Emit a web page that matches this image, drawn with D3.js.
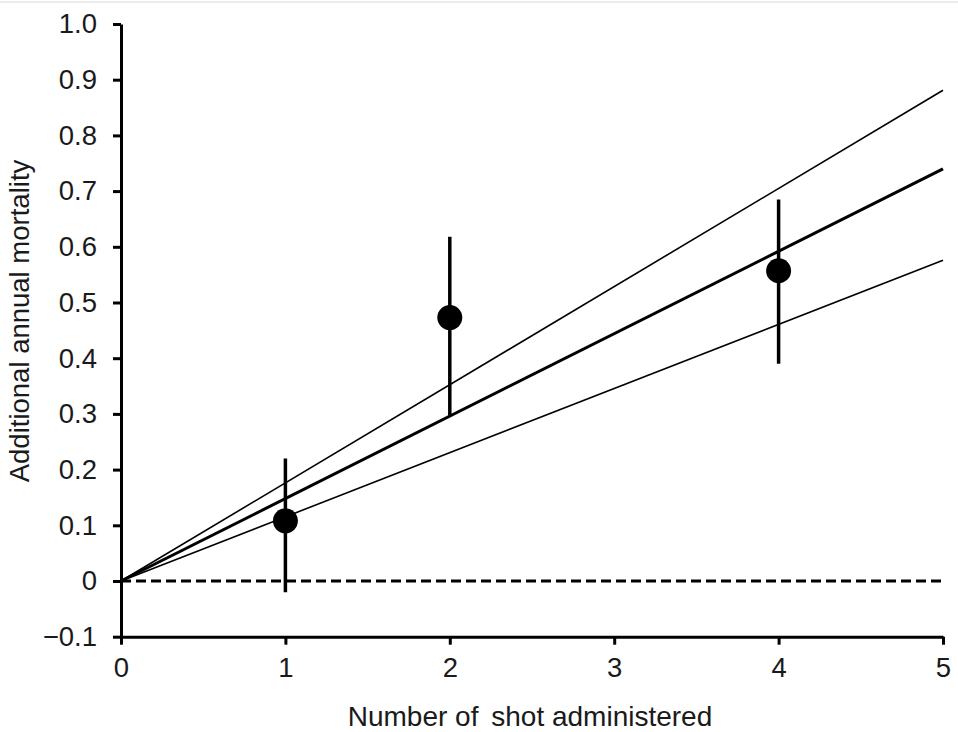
<!DOCTYPE html>
<html><head><meta charset="utf-8">
<script src="https://cdn.jsdelivr.net/npm/d3@7"></script>
<style>body{margin:0;background:#fff}svg{display:block}text{font-family:"Liberation Sans",Arial,sans-serif;fill:#1a1a1a}</style>
</head><body>
<svg id="c" width="958" height="732"></svg>
<script>
const shots = [1, 2, 4];
const mortality = [0.108, 0.473, 0.557];
const errLow = [-0.02, 0.297, 0.39];
const errHigh = [0.22, 0.618, 0.685];
const fitX = [0, 5];
const fitCentral = [0, 0.74];
const fitUpper = [0, 0.881];
const fitLower = [0, 0.576];
const xTicks = [0, 1, 2, 3, 4, 5];
const yTicks = [-0.1, 0, 0.1, 0.2, 0.3, 0.4, 0.5, 0.6, 0.7, 0.8, 0.9, 1.0];

const svg = d3.select("#c");
svg.append("line").attr("x1",0).attr("x2",958).attr("y1",2).attr("y2",2).attr("stroke","#ececec").attr("stroke-width",2);

const x = d3.scaleLinear().domain([0,5]).range([121,943]);
const y = d3.scaleLinear().domain([-0.1,1.0]).range([636.7,24]);

const fmtY = d => d === 0 ? "0" : (d < 0 ? "\u2212" + Math.abs(d).toFixed(1) : d.toFixed(1));
const FS = "27.5px";

// y axis
const ya = svg.append("g").attr("transform",`translate(${x(0)},0)`)
  .call(d3.axisLeft(y).tickValues(yTicks).tickFormat(fmtY).tickSize(8).tickSizeOuter(0).tickPadding(16));
ya.select(".domain").attr("stroke","#000").attr("stroke-width",3);
ya.selectAll(".tick line").attr("stroke","#000").attr("stroke-width",3);
ya.selectAll(".tick text").style("font-size",FS).attr("fill","#1a1a1a").attr("font-family",null);

// x axis
const xa = svg.append("g").attr("transform",`translate(0,${y(-0.1)})`)
  .call(d3.axisBottom(x).tickValues(xTicks).tickFormat(d3.format("d")).tickSize(8).tickSizeOuter(0).tickPadding(13));
xa.select(".domain").attr("stroke","#000").attr("stroke-width",3);
xa.selectAll(".tick line").attr("stroke","#000").attr("stroke-width",3);
xa.selectAll(".tick text").style("font-size",FS).attr("fill","#1a1a1a").attr("font-family",null);

// zero dashed line
svg.append("line").attr("x1",x(0)).attr("x2",x(5)).attr("y1",y(0)).attr("y2",y(0))
  .attr("stroke","#000").attr("stroke-width",3).attr("stroke-dasharray","10,5");

const line = d3.line().x(d=>x(d[0])).y(d=>y(d[1]));
const mk = ys => fitX.map((v,i)=>[v, ys[i]]);
svg.append("path").attr("d",line(mk(fitUpper))).attr("fill","none").attr("stroke","#000").attr("stroke-width",1.6);
svg.append("path").attr("d",line(mk(fitLower))).attr("fill","none").attr("stroke","#000").attr("stroke-width",1.6);
svg.append("path").attr("d",line(mk(fitCentral))).attr("fill","none").attr("stroke","#000").attr("stroke-width",3);

// error bars
svg.selectAll(".err").data(shots).enter().append("line")
  .attr("x1",d=>x(d)).attr("x2",d=>x(d))
  .attr("y1",(d,i)=>y(errLow[i])).attr("y2",(d,i)=>y(errHigh[i]))
  .attr("stroke","#000").attr("stroke-width",3.5);
svg.selectAll(".pt").data(shots).enter().append("circle")
  .attr("cx",d=>x(d)).attr("cy",(d,i)=>y(mortality[i])).attr("r",12.5).attr("fill","#000");

const xt = svg.append("text").attr("x",530).attr("y",726).attr("text-anchor","middle").style("font-size","28px");
xt.append("tspan").text("Number of");
xt.append("tspan").attr("dx",5).text(" shot administered");
svg.append("text").attr("transform","translate(29,321) rotate(-90)").attr("text-anchor","middle").style("font-size",FS)
  .text("Additional annual mortality");
</script>
</body></html>
